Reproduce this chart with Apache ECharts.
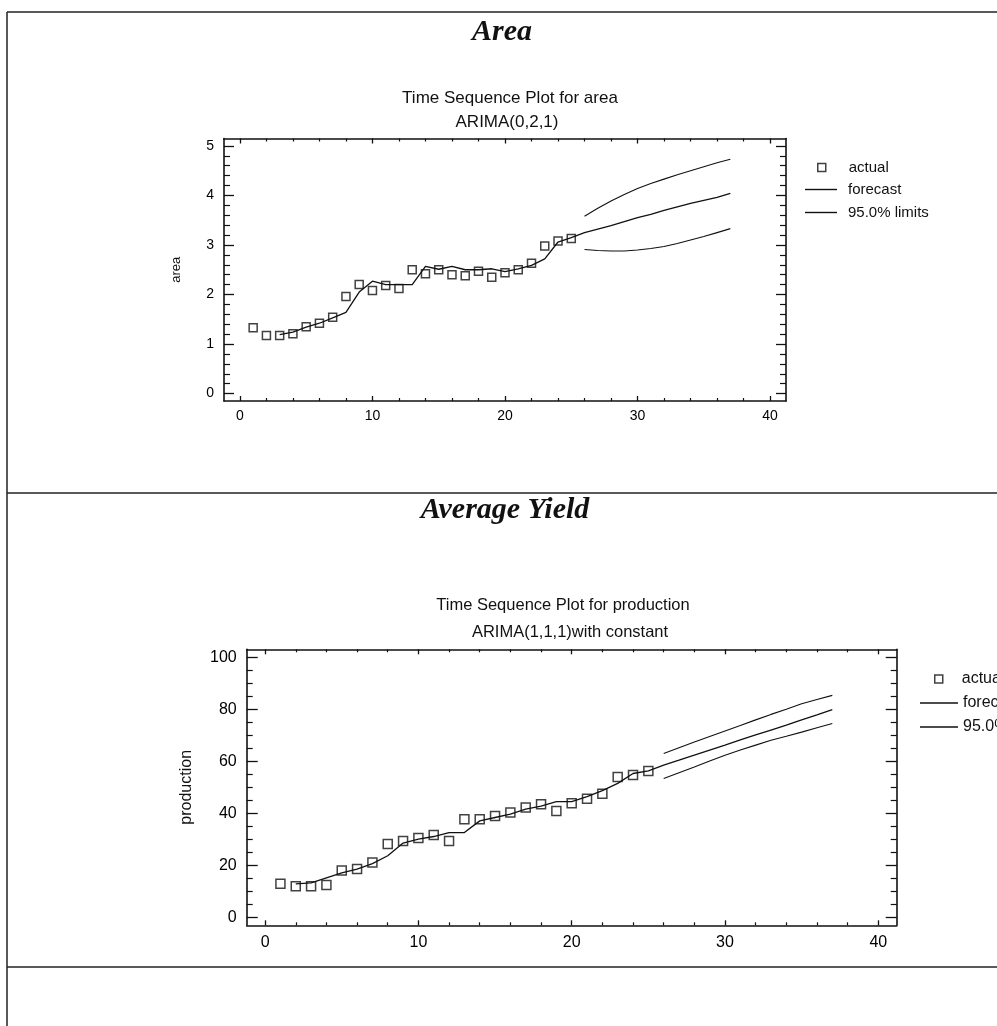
<!DOCTYPE html>
<html>
<head>
<meta charset="utf-8">
<title>Area / Average Yield - Time Sequence Plots</title>
<script src="https://cdn.jsdelivr.net/npm/echarts@6/dist/echarts.min.js"></script>
<style>
  html, body { margin: 0; padding: 0; background: #fff; }
  #main { width: 997px; height: 1026px; }
</style>
</head>
<body>
<div id="main"></div>
<script>
// ---- values ----
const areaT      = [1,2,3,4,5,6,7,8,9,10,11,12,13,14,15,16,17,18,19,20,21,22,23,24,25];
const areaActual = [1.33,1.17,1.17,1.21,1.35,1.42,1.54,1.96,2.20,2.08,2.18,2.12,2.50,2.42,2.50,2.40,2.38,2.47,2.35,2.44,2.50,2.63,2.98,3.08,3.13];
// fitted values (t = 3..25) followed by the forecast (t = 26..37)
const areaFitT   = [3,4,5,6,7,8,9,10,11,12,13,14,15,16,17,18,19,20,21,22,23,24,25,26,27,28,29,30,31,32,33,34,35,36,37];
const areaFit    = [1.19,1.24,1.34,1.42,1.53,1.64,2.05,2.27,2.20,2.20,2.20,2.57,2.51,2.57,2.50,2.50,2.52,2.46,2.52,2.59,2.72,3.06,3.15,
                    3.25,3.32,3.39,3.47,3.55,3.62,3.70,3.77,3.84,3.90,3.96,4.04];
const limitT     = [26,27,28,29,30,31,32,33,34,35,36,37];
const areaUpper  = [3.58,3.74,3.89,4.02,4.14,4.24,4.33,4.42,4.50,4.58,4.66,4.73];
const areaLower  = [2.91,2.89,2.88,2.88,2.90,2.93,2.97,3.03,3.10,3.17,3.25,3.33];

const prodT      = [1,2,3,4,5,6,7,8,9,10,11,12,13,14,15,16,17,18,19,20,21,22,23,24,25];
const prodActual = [13.0,12.0,12.0,12.5,18.0,18.6,21.1,28.2,29.4,30.5,31.7,29.4,37.7,37.7,39.0,40.3,42.2,43.5,40.9,43.9,45.6,47.5,54.0,54.7,56.3];
const prodFitT   = [2,3,4,5,6,7,8,9,10,11,12,13,14,15,16,17,18,19,20,21,22,23,24,25,26,27,28,29,30,31,32,33,34,35,36,37];
const prodFit    = [12.9,13.3,15.2,17.1,18.6,20.7,23.7,28.6,30.1,31.1,32.6,32.6,37.1,38.4,39.7,41.6,42.8,44.5,44.5,46.4,48.7,51.5,55.3,56.3,
                    58.5,60.4,62.4,64.3,66.2,68.2,70.1,72.0,73.9,75.9,77.8,79.8];
const prodUpper  = [63.0,65.2,67.4,69.5,71.6,73.7,75.9,78.0,80.0,82.1,83.7,85.3];
const prodLower  = [53.4,55.6,57.8,60.1,62.3,64.3,66.2,68.1,69.6,71.2,72.9,74.5];

// tick labels
const xMajor     = [0,10,20,30,40];
const xMinor     = [2,4,6,8,12,14,16,18,22,24,26,28,32,34,36,38];
const areaMajor  = [0,1,2,3,4,5];
const areaMinor  = [0.2,0.4,0.6,0.8,1.2,1.4,1.6,1.8,2.2,2.4,2.6,2.8,3.2,3.4,3.6,3.8,4.2,4.4,4.6,4.8];
const prodMajor  = [0,20,40,60,80,100];
const prodMinor  = [5,10,15,25,30,35,45,50,55,65,70,75,85,90,95];

const INK = '#111';
const SANS = '"Liberation Sans", Arial, sans-serif';
const SERIF = '"Liberation Serif", "Times New Roman", serif';

const pairs = (ts, vs) => ts.map((t, i) => [t, vs[i]]);

// per side: labelled major ticks + minor ticks, then the mirrored frame side
function axisSet(kind, gridIndex, min, max, major, minor, opts) {
  const sides = kind === 'x' ? ['bottom', 'top'] : ['left', 'right'];
  const base = { gridIndex, type: 'value', min, max, splitLine: { show: false } };
  const out = [];
  sides.forEach((side, s) => {
    out.push(Object.assign({}, base, {
      position: side,
      axisLine: { show: true, onZero: false, lineStyle: { color: INK, width: 1.6 } },
      axisTick: { show: true, inside: true, length: opts.majorLen, customValues: major, lineStyle: { color: INK, width: 1.3 } },
      axisLabel: s === 0
        ? { show: true, customValues: major, color: '#000', fontSize: opts.fontSize, fontFamily: SANS, margin: opts.margin }
        : { show: false }
    }, s === 0 && opts.name ? {
      name: opts.name, nameLocation: 'middle', nameGap: opts.nameGap,
      nameTextStyle: { color: INK, fontSize: opts.nameSize, fontFamily: SANS }
    } : {}));
    out.push(Object.assign({}, base, {
      position: side,
      axisLine: { show: false, onZero: false },
      axisTick: { show: true, inside: true, length: opts.minorLen, customValues: minor, lineStyle: { color: INK, width: 1.2 } },
      axisLabel: { show: false }
    }));
  });
  return out;
}

const xAxis = [].concat(
  axisSet('x', 0, -1.2, 41.2, xMajor, xMinor, { majorLen: 5, minorLen: 3, fontSize: 14, margin: 8 }),
  axisSet('x', 1, -1.2, 41.2, xMajor, xMinor, { majorLen: 5, minorLen: 3, fontSize: 16, margin: 9 })
);
const yAxis = [].concat(
  axisSet('y', 0, -0.15, 5.15, areaMajor, areaMinor, { majorLen: 10, minorLen: 6, fontSize: 14, margin: 10, name: 'area', nameGap: 41, nameSize: 13 }),
  axisSet('y', 1, -3, 103, prodMajor, prodMinor, { majorLen: 11, minorLen: 6, fontSize: 16, margin: 10, name: 'production', nameGap: 52, nameSize: 16 })
);

function seriesFor(ax, actualT, actual, fitT, fit, upper, lower, size) {
  return [
    { type: 'scatter', name: 'actual', xAxisIndex: ax, yAxisIndex: ax, data: pairs(actualT, actual),
      symbol: 'rect', symbolSize: size, z: 4,
      itemStyle: { color: 'rgba(255,255,255,0)', borderColor: INK, borderWidth: 1.5 } },
    { type: 'line', name: 'forecast', xAxisIndex: ax, yAxisIndex: ax, data: pairs(fitT, fit),
      symbol: 'none', itemStyle: { color: INK }, lineStyle: { color: INK, width: 1.3 } },
    { type: 'line', name: '95.0% limits', xAxisIndex: ax, yAxisIndex: ax, data: pairs(limitT, upper),
      symbol: 'none', itemStyle: { color: INK }, lineStyle: { color: INK, width: 1.1 } },
    { type: 'line', name: '95.0% limits', xAxisIndex: ax, yAxisIndex: ax, data: pairs(limitT, lower),
      symbol: 'none', itemStyle: { color: INK }, lineStyle: { color: INK, width: 1.1 } }
  ];
}

const legendText = (size, padLeft) => ({ color: INK, fontSize: size, fontFamily: SANS, padding: [0, 0, 0, padLeft] });
const squareIcon = { color: 'rgba(255,255,255,0)', borderColor: INK, borderWidth: 1.5 };
const lineIcons = [{ name: 'forecast', icon: 'rect' }, { name: '95.0% limits', icon: 'rect' }];
const lineIconStyle = { color: INK, borderWidth: 0 };

const option = {
  animation: false,
  backgroundColor: '#fff',
  grid: [
    { left: 224, top: 138.5, width: 562, height: 262.5 },
    { left: 246.7, top: 649.3, width: 650, height: 276 }
  ],
  xAxis,
  yAxis,
  legend: [
    { data: ['actual'], orient: 'vertical', left: 817, top: 160, padding: 0, selectedMode: false,
      itemWidth: 8, itemHeight: 8, itemStyle: squareIcon, textStyle: legendText(15, 18) },
    { data: lineIcons, orient: 'vertical', left: 805, top: 182, padding: 0, selectedMode: false,
      itemWidth: 32, itemHeight: 1.4, itemGap: 8, itemStyle: lineIconStyle, textStyle: legendText(15, 6) },
    { data: ['actual'], orient: 'vertical', left: 934, top: 671, padding: 0, selectedMode: false,
      itemWidth: 8, itemHeight: 8, itemStyle: squareIcon, textStyle: legendText(16, 14) },
    { data: lineIcons, orient: 'vertical', left: 920, top: 695, padding: 0, selectedMode: false,
      itemWidth: 38, itemHeight: 1.4, itemGap: 8, itemStyle: lineIconStyle, textStyle: legendText(16, 0) }
  ],
  graphic: [
    { type: 'line', shape: { x1: 7, y1: 12, x2: 997, y2: 12 }, style: { stroke: '#222', lineWidth: 1.5 } },
    { type: 'line', shape: { x1: 7, y1: 12, x2: 7, y2: 1026 }, style: { stroke: '#222', lineWidth: 1.5 } },
    { type: 'line', shape: { x1: 7, y1: 493, x2: 997, y2: 493 }, style: { stroke: '#222', lineWidth: 1.5 } },
    { type: 'line', shape: { x1: 7, y1: 967, x2: 997, y2: 967 }, style: { stroke: '#222', lineWidth: 1.5 } },
    { type: 'text', x: 502, y: 32, style: { text: 'Area', fill: INK, font: 'italic bold 30px ' + SERIF, textAlign: 'center', textVerticalAlign: 'middle' } },
    { type: 'text', x: 510, y: 98, style: { text: 'Time Sequence Plot for area', fill: INK, font: '17px ' + SANS, textAlign: 'center', textVerticalAlign: 'middle' } },
    { type: 'text', x: 507, y: 122, style: { text: 'ARIMA(0,2,1)', fill: INK, font: '17px ' + SANS, textAlign: 'center', textVerticalAlign: 'middle' } },
    { type: 'text', x: 505, y: 510, style: { text: 'Average Yield', fill: INK, font: 'italic bold 30px ' + SERIF, textAlign: 'center', textVerticalAlign: 'middle' } },
    { type: 'text', x: 563, y: 605, style: { text: 'Time Sequence Plot for production', fill: INK, font: '16.5px ' + SANS, textAlign: 'center', textVerticalAlign: 'middle' } },
    { type: 'text', x: 570, y: 632, style: { text: 'ARIMA(1,1,1)with constant', fill: INK, font: '16.5px ' + SANS, textAlign: 'center', textVerticalAlign: 'middle' } }
  ],
  series: [].concat(
    seriesFor(0, areaT, areaActual, areaFitT, areaFit, areaUpper, areaLower, 8),
    seriesFor(4, prodT, prodActual, prodFitT, prodFit, prodUpper, prodLower, 9)
  )
};

const chart = echarts.init(document.getElementById('main'));
chart.setOption(option);
</script>
</body>
</html>
